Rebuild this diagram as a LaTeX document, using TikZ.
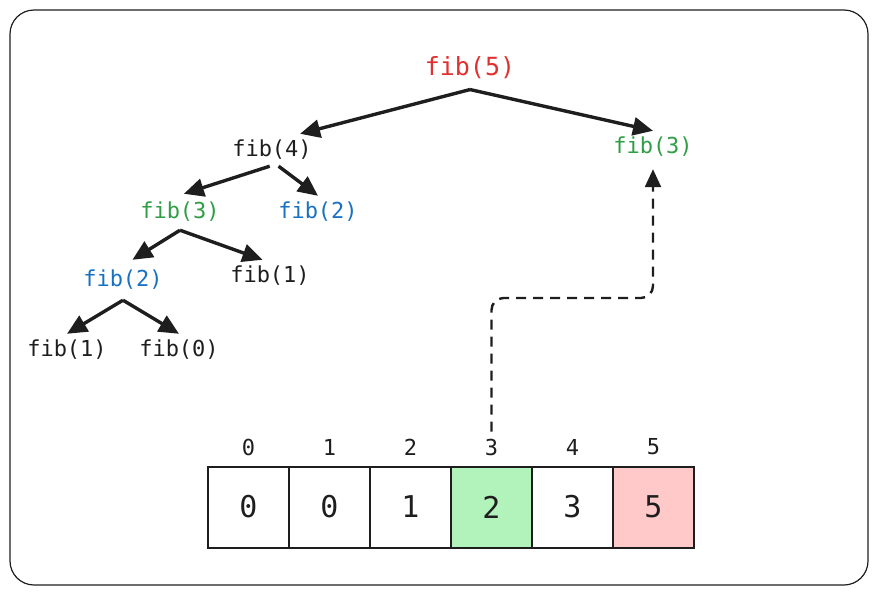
\documentclass[tikz,border=0pt]{standalone}
\usepackage{fontspec}
\setmainfont{DejaVu Sans Mono}
\usetikzlibrary{arrows.meta}
\definecolor{ink}{HTML}{1E1E1E}
\definecolor{callred}{HTML}{E03131}
\definecolor{callgreen}{HTML}{2F9E44}
\definecolor{callblue}{HTML}{1971C2}
\definecolor{memogreen}{HTML}{B2F2BB}
\definecolor{memored}{HTML}{FFC9C9}
\begin{document}
\begin{tikzpicture}[x=0.5pt, y=-0.5pt,
    call/.style={font=\fontsize{11}{13}\selectfont, inner sep=3pt, text=ink},
    link/.style={line width=1.7pt, draw=ink, -{Triangle[length=10pt,width=9pt]}},
    cell/.style={draw=ink, line width=1pt, minimum size=40.5pt, inner sep=0pt, text=ink, font=\fontsize{15}{17}\selectfont},
    index/.style={font=\fontsize{11}{13}\selectfont, text=ink}]
    \useasboundingbox (0, 0) rectangle (879, 595);
    \draw [rounded corners=12pt, line width=0.6pt, draw=ink] (10, 10) rectangle (868, 585);

    % call tree
    \node [call, text=callred, font=\fontsize{12.5}{15}\selectfont, inner sep=5pt] (f5) at (470, 68) {fib(5)};
    \node [call] (f4) at (272, 150) {fib(4)};
    \node [call, text=callgreen] (f3r) at (653, 147) {fib(3)};
    \node [call, text=callgreen, inner sep=4pt] (f3l) at (180, 212) {fib(3)};
    \node [call, text=callblue] (f2r) at (318, 212) {fib(2)};
    \node [call, text=callblue, inner sep=5pt] (f2l) at (123, 280) {fib(2)};
    \node [call] (f1a) at (270, 276) {fib(1)};
    \node [call] (f1b) at (67, 350) {fib(1)};
    \node [call] (f0) at (179, 350) {fib(0)};

    \draw [link] (f5.south) -- (f4.30);
    \draw [link] (f5.south) -- (f3r.north);
    \draw [link] (f4.262) -- (f3l.78);
    \draw [link] (f4.292) -- (f2r.north);
    \draw [link] (f3l.south) -- (f2l.65);
    \draw [link] (f3l.south) -- (f1a.115);
    \draw [link] (f2l.south) -- (f1b.north);
    \draw [link] (f2l.south) -- (f0.north);

    % memo table
    \node [cell] (c0) at (248.5, 507) {0};
    \node [cell] (c1) at (329.5, 507) {0};
    \node [cell] (c2) at (410.5, 507) {1};
    \node [cell, fill=memogreen] (c3) at (491.5, 507) {2};
    \node [cell] (c4) at (572.5, 507) {3};
    \node [cell, fill=memored] (c5) at (653.5, 507) {5};

    \node [index] (i0) at (248.5, 447) {0};
    \node [index] (i1) at (329.5, 447) {1};
    \node [index] (i2) at (410.5, 447) {2};
    \node [index] (i3) at (491.5, 447) {3};
    \node [index] (i4) at (572.5, 447) {4};
    \node [index] (i5) at (653.5, 447) {5};

    % lookup instead of recomputing
    \coordinate (turn) at (570, 298);
    \draw [line width=1.2pt, draw=ink, dash pattern=on 5pt off 3.5pt, rounded corners=6pt,
      -{Triangle[length=9pt,width=8pt]}, shorten >=3pt] (i3.north) |- (turn) -| (f3r.south);
  \end{tikzpicture}
\end{document}
